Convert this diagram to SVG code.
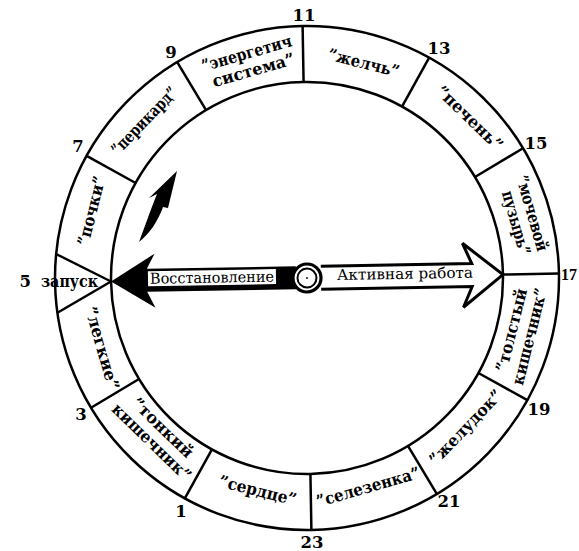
<svg xmlns="http://www.w3.org/2000/svg" width="579" height="551" viewBox="0 0 579 551">
<style>
.ring{fill:none;stroke:#000;stroke-width:2.5}
.div{stroke:#000;stroke-width:2.5;fill:none}
.lbl{font-family:"DejaVu Serif","Liberation Serif",serif;font-weight:bold;font-size:16.5px;fill:#000;text-anchor:middle}
.num{font-family:"DejaVu Serif","Liberation Serif",serif;font-weight:bold;font-size:16.5px;fill:#000;text-anchor:middle}
.arr{font-family:"DejaVu Serif","Liberation Serif",serif;font-size:15px;fill:#000;text-anchor:middle}
</style>
<rect width="579" height="551" fill="#fff"/>
<g id="dial" transform="rotate(-1 307 278)">
  <circle class="ring" cx="307" cy="278" r="252"/>
  <circle class="ring" cx="307" cy="278" r="196"/>
  <g id="dividers">
    <line class="div" x1="503" y1="278" x2="559" y2="278"/>
    <line class="div" x1="476.7" y1="180" x2="525.2" y2="152"/>
    <line class="div" x1="405" y1="108.3" x2="433" y2="59.8"/>
    <line class="div" x1="307" y1="82" x2="307" y2="26"/>
    <line class="div" x1="209" y1="108.3" x2="181" y2="59.8"/>
    <line class="div" x1="137.3" y1="180" x2="88.8" y2="152"/>
    <line class="div" x1="137.3" y1="376" x2="88.8" y2="404"/>
    <line class="div" x1="209" y1="447.7" x2="181" y2="496.2"/>
    <line class="div" x1="307" y1="474" x2="307" y2="530"/>
    <line class="div" x1="405" y1="447.7" x2="433" y2="496.2"/>
    <line class="div" x1="476.7" y1="376" x2="525.2" y2="404"/>
  </g>
  <g id="connectors">
    <g id="arrow-recovery">
      <path d="M111,278 L155,251 L147,266 L296,266 L296,289 L147,289 L155,305 Z" fill="#000"/>
      <rect x="148" y="268.5" width="128" height="15" fill="#fff"/>
      <text class="arr" x="212" y="281" textLength="124" lengthAdjust="spacingAndGlyphs">Восстановление</text>
    </g>
    <g id="arrow-active">
      <path d="M321,266.5 L472,266.5 L463,246 L503,278 L463,310 L472,289.5 L321,289.5" fill="#fff" stroke="#000" stroke-width="3" stroke-linejoin="miter"/>
      <text class="arr" x="405" y="280.5" textLength="136" lengthAdjust="spacingAndGlyphs">Активная работа</text>
    </g>
    <g id="hub">
      <circle cx="307" cy="278" r="14" fill="#fff" stroke="#000" stroke-width="3.2"/>
      <circle cx="307" cy="278" r="9.5" fill="#fff" stroke="#000" stroke-width="2"/>
      <circle cx="307" cy="278" r="0.9" fill="#000"/>
    </g>
  </g>
</g>
<g id="start-wedge">
  <line class="div" x1="111" y1="281.5" x2="56" y2="254"/>
  <line class="div" x1="111" y1="281.5" x2="57" y2="313"/>
</g>
<g id="curved-arrow">
  <path d="M177,171 L149,198 L157,194 C152,206 146,223 139,242 C150,233 158,221 163,207 L168,208 Z" fill="#000"/>
</g>
<g id="hours">
  <text class="num" x="304" y="21">11</text>
  <text class="num" x="439" y="54">13</text>
  <text class="num" x="536" y="149">15</text>
  <text class="num" x="561" y="280" style="text-anchor:start;font-family:'Liberation Serif',serif;font-size:16px">17</text>
  <text class="num" x="539" y="415">19</text>
  <text class="num" x="449" y="507">21</text>
  <text class="num" x="312" y="548">23</text>
  <text class="num" x="181" y="517">1</text>
  <text class="num" x="81" y="420">3</text>
  <text class="num" x="78" y="152">7</text>
  <text class="num" x="171" y="58">9</text>
  <text class="num" x="28" y="287">5 <tspan x="69.5" textLength="57" lengthAdjust="spacingAndGlyphs">запуск</tspan></text>
</g>
<g id="s-energy" transform="translate(249.5 63.5) rotate(-16)">
  <text class="lbl" x="0" y="-5" textLength="93" lengthAdjust="spacingAndGlyphs">”энергетич</text>
  <text class="lbl" x="2" y="13" textLength="85" lengthAdjust="spacingAndGlyphs">система”</text>
</g>
<g id="s-bile" transform="translate(363.5 64) rotate(14)">
  <text class="lbl" x="0" y="4.5" textLength="73" lengthAdjust="spacingAndGlyphs">”желчь”</text>
</g>
<g id="s-liver" transform="translate(469 119) rotate(44)">
  <text class="lbl" x="0" y="4.5" textLength="85" lengthAdjust="spacingAndGlyphs">”печень”</text>
</g>
<g id="s-bladder" transform="translate(522.5 218) rotate(74)">
  <text class="lbl" x="-2" y="-5" textLength="78" lengthAdjust="spacingAndGlyphs">”мочевой</text>
  <text class="lbl" x="3" y="13" textLength="66" lengthAdjust="spacingAndGlyphs">пузырь”</text>
</g>
<g id="s-colon" transform="translate(521.5 333.5) rotate(-76)">
  <text class="lbl" x="1" y="-5" textLength="85" lengthAdjust="spacingAndGlyphs">”толстый</text>
  <text class="lbl" x="-1" y="14" textLength="99" lengthAdjust="spacingAndGlyphs">кишечник”</text>
</g>
<g id="s-stomach" transform="translate(466.5 428) rotate(-46)">
  <text class="lbl" x="0" y="4.5" textLength="97" lengthAdjust="spacingAndGlyphs">”желудок”</text>
</g>
<g id="s-spleen" transform="translate(368.5 488) rotate(-16)">
  <text class="lbl" x="0" y="4.5" textLength="107" lengthAdjust="spacingAndGlyphs">”селезенка”</text>
</g>
<g id="s-heart" transform="translate(257.5 491.5) rotate(14)">
  <text class="lbl" x="0" y="4.5" textLength="79" lengthAdjust="spacingAndGlyphs">”сердце”</text>
</g>
<g id="s-smallint" transform="translate(156 436) rotate(44)">
  <text class="lbl" x="-1" y="-5" textLength="78" lengthAdjust="spacingAndGlyphs">”тонкий</text>
  <text class="lbl" x="1" y="13" textLength="103" lengthAdjust="spacingAndGlyphs">кишечник”</text>
</g>
<g id="s-lungs" transform="translate(101 348.5) rotate(74)">
  <text class="lbl" x="0" y="4.5" textLength="86" lengthAdjust="spacingAndGlyphs">”легкие”</text>
</g>
<g id="s-kidneys" transform="translate(92.5 211) rotate(-76)">
  <text class="lbl" x="0" y="4.5" textLength="71" lengthAdjust="spacingAndGlyphs">”почки”</text>
</g>
<g id="s-pericard" transform="translate(145 121.5) rotate(-46)">
  <text class="lbl" x="0" y="4.5" textLength="87" lengthAdjust="spacingAndGlyphs">”перикард”</text>
</g>
</svg>
